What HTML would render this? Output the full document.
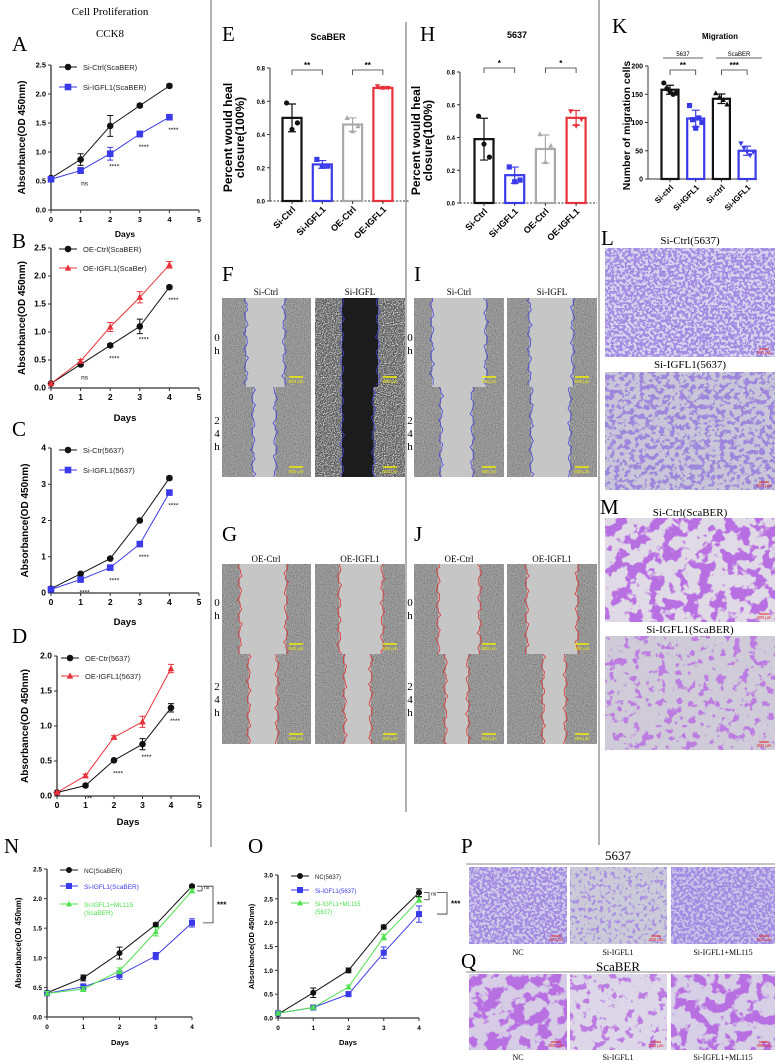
<!DOCTYPE html>
<html><head><meta charset="utf-8">
<style>
body{margin:0;background:#fff}
svg{display:block}
text{font-family:"Liberation Sans",sans-serif}
.serif{font-family:"Liberation Serif",serif}
</style></head>
<body>
<svg id="fig" width="775" height="1062" viewBox="0 0 775 1062" xmlns="http://www.w3.org/2000/svg">
<defs>
<filter id="gn" x="0" y="0" width="1" height="1"><feTurbulence type="fractalNoise" baseFrequency="0.9" numOctaves="1" seed="4"/><feColorMatrix type="matrix" values="0 0 0 0 0.15 0 0 0 0 0.15 0 0 0 0 0.15 2.2 0 0 0 -0.85"/></filter>
<filter id="wn" x="0" y="0" width="1" height="1"><feTurbulence type="fractalNoise" baseFrequency="0.9" numOctaves="1" seed="2"/><feColorMatrix type="matrix" values="0 0 0 0 0.9 0 0 0 0 0.9 0 0 0 0 0.9 3 0 0 0 -1.3"/></filter>
<filter id="pA" x="0" y="0" width="1" height="1"><feTurbulence type="fractalNoise" baseFrequency="0.35" numOctaves="2" seed="7"/><feColorMatrix type="matrix" values="0 0 0 0 0.36 0 0 0 0 0.26 0 0 0 0 0.76 12 0 0 0 -5.3"/></filter>
<filter id="pB" x="0" y="0" width="1" height="1"><feTurbulence type="fractalNoise" baseFrequency="0.2" numOctaves="3" seed="11"/><feColorMatrix type="matrix" values="0 0 0 0 0.34 0 0 0 0 0.24 0 0 0 0 0.72 12 0 0 0 -6.0"/></filter>
<filter id="pC" x="0" y="0" width="1" height="1"><feTurbulence type="fractalNoise" baseFrequency="0.08" numOctaves="3" seed="5"/><feColorMatrix type="matrix" values="0 0 0 0 0.48 0 0 0 0 0.16 0 0 0 0 0.76 12 0 0 0 -5.9"/></filter>
<filter id="pD" x="0" y="0" width="1" height="1"><feTurbulence type="fractalNoise" baseFrequency="0.12" numOctaves="3" seed="13"/><feColorMatrix type="matrix" values="0 0 0 0 0.5 0 0 0 0 0.2 0 0 0 0 0.76 12 0 0 0 -6.8"/></filter>
<filter id="pE" x="0" y="0" width="1" height="1"><feTurbulence type="fractalNoise" baseFrequency="0.25" numOctaves="3" seed="17"/><feColorMatrix type="matrix" values="0 0 0 0 0.4 0 0 0 0 0.28 0 0 0 0 0.76 12 0 0 0 -6.7"/></filter>
</defs>

<g stroke="#666" stroke-width="1">
<line x1="211" y1="0" x2="211" y2="847"/>
<line x1="406" y1="22" x2="406" y2="812"/>
<line x1="599" y1="0" x2="599" y2="845"/>
</g>

<g class="serif">
<text x="110" y="15" text-anchor="middle" font-size="11" class="serif">Cell Proliferation</text>
<text x="110" y="37" text-anchor="middle" font-size="11" class="serif">CCK8</text>
</g>

<g font-size="21" class="serif">
<text class="serif" x="12" y="51">A</text>
<text class="serif" x="12" y="248">B</text>
<text class="serif" x="12" y="436">C</text>
<text class="serif" x="12" y="643">D</text>
<text class="serif" x="222" y="41">E</text>
<text class="serif" x="420" y="41">H</text>
<text class="serif" x="612" y="33">K</text>
<text class="serif" x="222" y="281">F</text>
<text class="serif" x="414" y="281">I</text>
<text class="serif" x="222" y="541">G</text>
<text class="serif" x="414" y="541">J</text>
<text class="serif" x="601" y="245">L</text>
<text class="serif" x="600" y="514">M</text>
<text class="serif" x="4" y="853">N</text>
<text class="serif" x="248" y="853">O</text>
<text class="serif" x="461" y="853">P</text>
<text class="serif" x="461" y="968">Q</text>
</g>

<g id="root"></g>
<g id="imgs"></g>
</svg>

<script>
// ---------- DATA ----------
const days = [0, 1, 2, 3, 4];
const xTicks5 = [0, 1, 2, 3, 4, 5];
const xTicks4 = [0, 1, 2, 3, 4];

const aTicks = [0, 0.5, 1, 1.5, 2, 2.5];
const aTickLabels = ["0.0", "0.5", "1.0", "1.5", "2.0", "2.5"];
const aCtrl = [0.55, 0.87, 1.45, 1.80, 2.14];
const aCtrlErr = [0.02, 0.1, 0.18, 0.03, 0.03];
const aSi = [0.53, 0.68, 0.97, 1.31, 1.60];
const aSiErr = [0.02, 0.05, 0.11, 0.05, 0.03];
const aStars = ["", "ns", "****", "****", "****"];

const bCtrl = [0.08, 0.42, 0.76, 1.10, 1.80];
const bCtrlErr = [0.02, 0.03, 0.03, 0.13, 0.03];
const bOE = [0.08, 0.48, 1.09, 1.62, 2.20];
const bOEErr = [0.02, 0.03, 0.08, 0.1, 0.06];
const bStars = ["", "ns", "****", "****", "****"];

const cTicks = [0, 1, 2, 3, 4];
const cTickLabels = ["0", "1", "2", "3", "4"];
const cCtrl = [0.12, 0.53, 0.95, 2.0, 3.17];
const cCtrlErr = [0.02, 0.03, 0.03, 0.04, 0.05];
const cSi = [0.1, 0.37, 0.7, 1.35, 2.77];
const cSiErr = [0.02, 0.03, 0.04, 0.05, 0.05];
const cStars = ["", "****", "****", "****", "****"];

const dTicks = [0, 0.5, 1, 1.5, 2];
const dTickLabels = ["0.0", "0.5", "1.0", "1.5", "2.0"];
const dCtrl = [0.05, 0.15, 0.51, 0.74, 1.26];
const dCtrlErr = [0.01, 0.02, 0.02, 0.08, 0.06];
const dOE = [0.05, 0.29, 0.84, 1.06, 1.82];
const dOEErr = [0.01, 0.02, 0.02, 0.08, 0.06];
const dStars = ["", "**", "****", "****", "****"];

const nNC = [0.41, 0.66, 1.08, 1.56, 2.21];
const nNCErr = [0.03, 0.05, 0.1, 0.03, 0.02];
const nSi = [0.40, 0.51, 0.71, 1.03, 1.59];
const nSiErr = [0.03, 0.05, 0.07, 0.06, 0.07];
const nML = [0.40, 0.47, 0.78, 1.44, 2.13];
const nMLErr = [0.03, 0.04, 0.05, 0.07, 0.03];

const oTicks = [0, 0.5, 1, 1.5, 2, 2.5, 3];
const oTickLabels = ["0.0", "0.5", "1.0", "1.5", "2.0", "2.5", "3.0"];
const oNC = [0.08, 0.53, 1.0, 1.91, 2.63];
const oNCErr = [0.03, 0.1, 0.05, 0.04, 0.08];
const oSi = [0.1, 0.22, 0.5, 1.37, 2.18];
const oSiErr = [0.03, 0.03, 0.05, 0.12, 0.17];
const oML = [0.1, 0.22, 0.65, 1.7, 2.48];
const oMLErr = [0.03, 0.03, 0.04, 0.06, 0.05];

const barCats = ["Si-Ctrl", "Si-IGFL1", "OE-Ctrl", "OE-IGFL1"];
const barTicks = [0, 0.2, 0.4, 0.6, 0.8];
const barTickLabels = ["0.0", "0.2", "0.4", "0.6", "0.8"];
const eVals = [0.50, 0.22, 0.46, 0.68];
const ePts = [[0.59, 0.43, 0.47], [0.25, 0.21, 0.21], [0.50, 0.42, 0.45], [0.69, 0.68, 0.68]];
const hVals = [0.39, 0.17, 0.33, 0.52];
const hPts = [[0.53, 0.36, 0.28], [0.22, 0.13, 0.14], [0.42, 0.25, 0.35], [0.56, 0.47, 0.51]];
const kCats = ["Si-ctrl", "Si-IGFL1", "Si-ctrl", "Si-IGFL1"];
const kTicks = [0, 50, 100, 150, 200];
const kTickLabels = ["0", "50", "100", "150", "200"];
const kVals = [158, 107, 142, 50];
const kPts = [[170, 160, 155, 150, 152], [130, 105, 90, 108, 100], [152, 145, 140, 132], [63, 55, 48, 42, 48]];

// ---------- HELPERS ----------
const NS = "http://www.w3.org/2000/svg";
const root = document.getElementById("root");
const imgs = document.getElementById("imgs");
function mk(tag, attrs, parent) {
  const e = document.createElementNS(NS, tag);
  for (const k in attrs) e.setAttribute(k, attrs[k]);
  parent.appendChild(e);
  return e;
}
function tx(str, attrs, parent) { const e = mk("text", attrs, parent); e.textContent = str; return e; }

const BLACK = "#111", BLUE = "#3a3ae8", RED = "#e8323c", GREEN = "#4ee04e", GRAY = "#aaaaaa";

function marker(g, type, x, y, color, s) {
  let m;
  if (type === "circle") m = mk("circle", { cx: x, cy: y, r: s, fill: color }, g);
  else if (type === "square") m = mk("rect", { x: x - s, y: y - s, width: 2 * s, height: 2 * s, fill: color }, g);
  else if (type === "tri") m = mk("polygon", { points: `${x},${y - s * 1.1} ${x - s},${y + s * 0.8} ${x + s},${y + s * 0.8}`, fill: color }, g);
  else m = mk("polygon", { points: `${x},${y + s * 1.1} ${x - s},${y - s * 0.8} ${x + s},${y - s * 0.8}`, fill: color }, g);
  
  
  return m;
}

function lineChart(L, xt, yt, ytl, series, stars) {
  const g = mk("g", {}, root);
  
  
  const X = d => L.x0 + d * L.xs;
  const Y = v => L.yB - v / L.ymax * (L.yB - L.yT);
  const xmax = xt[xt.length - 1];
  const ya = mk("line", { x1: L.x0, y1: L.yT, x2: L.x0, y2: L.yB, stroke: "#333", "stroke-width": 1.3 }, g);
  
  
  const xa = mk("line", { x1: L.x0, y1: L.yB, x2: X(xmax), y2: L.yB, stroke: "#333", "stroke-width": 1.3 }, g);
  
  
  yt.forEach((v, i) => {
    mk("line", { x1: L.x0 - 3, y1: Y(v), x2: L.x0, y2: Y(v), stroke: "#333", "stroke-width": 1 }, g);
    const t = tx(ytl[i], { x: L.x0 - 5, y: Y(v) + 2.5, "text-anchor": "end", "font-size": L.fs, "font-weight": "bold" }, g);
    
    
  });
  xt.forEach(d => {
    mk("line", { x1: X(d), y1: L.yB, x2: X(d), y2: L.yB + 3, stroke: "#333", "stroke-width": 1 }, g);
    const t = tx(String(d), { x: X(d), y: L.yB + 12, "text-anchor": "middle", "font-size": L.fs, "font-weight": "bold" }, g);
    
    
  });
  const xl = tx("Days", { x: L.dx, y: L.dy, "text-anchor": "middle", "font-size": L.fs + 1, "font-weight": "bold" }, g);
  
  
  const yl = tx("Absorbance(OD 450nm)", { x: 0, y: 0, "text-anchor": "middle", "font-size": L.yfs, "font-weight": "bold", transform: `translate(${L.ytx},${(L.yT + L.yB) / 2}) rotate(-90)` }, g);
  
  
  series.forEach((s, si) => {
    const pts = s.vals.map((v, i) => X(days[i]) + "," + Y(v)).join(" ");
    const pl = mk("polyline", { points: pts, fill: "none", stroke: s.color, "stroke-width": 1 }, g);
    
    
    s.vals.forEach((v, i) => {
      const x = X(days[i]), e = s.errs[i];
      const eb = mk("path", { d: `M${x},${Y(v - e)}V${Y(v + e)}M${x - 3},${Y(v - e)}h6M${x - 3},${Y(v + e)}h6`, stroke: s.color, "stroke-width": 1, fill: "none" }, g);
      
      
      marker(g, s.marker, x, Y(v), s.color, L.ms);
    });
    const ly = L.legY[si];
    const ll = mk("line", { x1: L.legX, y1: ly, x2: L.legX + 18, y2: ly, stroke: s.color, "stroke-width": 1 }, g);
    
    
    marker(g, s.marker, L.legX + 9, ly, s.color, L.ms);
    s.label.forEach((lab, k) => {
      const lt = tx(lab, { x: L.legX + 24, y: ly + 3 + k * 8, "font-size": L.lfs, fill: s.lcolor || "#222" }, g);
      
      
    });
  });
  if (stars) {
    const ref = series[stars.ref].vals;
    stars.labels.forEach((lab, i) => {
      if (!lab) return;
      const st = tx(lab, { x: X(days[i]) + 4, y: Y(ref[i]) + 15, "text-anchor": "middle", "font-size": 6.5 }, g);
      
      
    });
  }
  return { g, X, Y };
}

function barChart(B, cats, yt, ytl, vals, pts, colors, marks) {
  const g = mk("g", {}, root);
  
  
  const Y = v => B.yB - v / B.ymax * (B.yB - B.yT);
  const C = i => B.c0 + i * B.band;
  const ya = mk("line", { x1: B.x0, y1: B.yT, x2: B.x0, y2: B.yB, stroke: "#333", "stroke-width": 1 }, g);
  
  
  const xa = mk("line", { x1: B.x0, y1: B.yB, x2: B.x1, y2: B.yB, stroke: "#333", "stroke-width": 1, "stroke-dasharray": B.dash ? "2,1.5" : "none" }, g);
  
  
  yt.forEach((v, i) => {
    mk("line", { x1: B.x0 - 3, y1: Y(v), x2: B.x0, y2: Y(v), stroke: "#333", "stroke-width": 1 }, g);
    const t = tx(ytl[i], { x: B.x0 - 5, y: Y(v) + 2.5, "text-anchor": "end", "font-size": B.tfs, "font-weight": "bold" }, g);
    
    
  });
  vals.forEach((v, i) => {
    const c = C(i), col = colors[i];
    const bar = mk("rect", { x: c - B.bw / 2, y: Y(v), width: B.bw, height: B.yB - Y(v), fill: "#fff", stroke: col, "stroke-width": 2.2 }, g);
    
    
    const p = pts[i];
    const m = p.reduce((a, b) => a + b, 0) / p.length;
    const sd = Math.sqrt(p.reduce((a, b) => a + (b - m) * (b - m), 0) / (p.length - 1));
    const eb = mk("path", { d: `M${c},${Y(v - sd)}V${Y(v + sd)}M${c - 4},${Y(v - sd)}h8M${c - 4},${Y(v + sd)}h8`, stroke: col, "stroke-width": 1.2, fill: "none" }, g);
    
    
    p.forEach((pv, k) => {
      const off = (k - (p.length - 1) / 2) * (B.bw / (p.length + 0.5));
      marker(g, marks[i], c + off, Y(pv), col, 2.6);
    });
    mk("line", { x1: c, y1: B.yB, x2: c, y2: B.yB + 3, stroke: "#333" }, g);
    const ct = tx(cats[i], { x: 0, y: 0, "text-anchor": "end", "font-size": B.cfs, "font-weight": "bold", transform: `translate(${c + 4},${B.yB + 9}) rotate(-45)` }, g);
    
    
  });
  B.sig.forEach(s => {
    const x1 = C(s.a), x2 = C(s.b);
    const br = mk("path", { d: `M${x1},${B.sigY + 5}V${B.sigY}H${x2}V${B.sigY + 5}`, stroke: "#333", fill: "none", "stroke-width": 0.8 }, g);
    
    
    const st = tx(s.t, { x: (x1 + x2) / 2, y: B.sigY - 2, "text-anchor": "middle", "font-size": 8, "font-weight": "bold" }, g);
    
    
  });
  const tt = tx(B.title, { x: B.titleX, y: B.titleY, "text-anchor": "middle", "font-size": B.titleFs, "font-weight": "bold" }, g);
  
  
  B.ytitle.forEach((line, k) => {
    const yl = tx(line, { x: 0, y: 0, "text-anchor": "middle", "font-size": B.yfs, "font-weight": "bold", transform: `translate(${B.ytx + k * B.yfs},${(B.yT + B.yB) / 2 + 3}) rotate(-90)` }, g);
    
    
  });
  return g;
}

// ---------- LINE CHARTS ----------
lineChart({ name: "chart-a", x0: 51, xs: 29.6, yB: 210, yT: 65, ymax: 2.5, fs: 7.5, yfs: 10, ytx: 25, dx: 125, dy: 237, ms: 3.3, legX: 59, legY: [67, 87], lfs: 7.5 },
  xTicks5, aTicks, aTickLabels,
  [{ vals: aCtrl, errs: aCtrlErr, color: BLACK, marker: "circle", label: ["Si-Ctrl(ScaBER)"] },
   { vals: aSi, errs: aSiErr, color: BLUE, marker: "square", label: ["Si-IGFL1(ScaBER)"] }],
  { ref: 1, labels: aStars });

lineChart({ name: "chart-b", x0: 51, xs: 29.6, yB: 388, yT: 248, ymax: 2.5, fs: 8.5, yfs: 10, ytx: 25, dx: 125, dy: 421, ms: 3.3, legX: 59, legY: [249, 268], lfs: 7.5 },
  xTicks5, aTicks, aTickLabels,
  [{ vals: bCtrl, errs: bCtrlErr, color: BLACK, marker: "circle", label: ["OE-Ctrl(ScaBER)"] },
   { vals: bOE, errs: bOEErr, color: RED, marker: "tri", label: ["OE-IGFL1(ScaBer)"] }],
  { ref: 0, labels: bStars });

lineChart({ name: "chart-c", x0: 51, xs: 29.6, yB: 593, yT: 448, ymax: 4, fs: 8.5, yfs: 10, ytx: 28, dx: 125, dy: 625, ms: 3.3, legX: 59, legY: [450, 470], lfs: 7.5 },
  xTicks5, cTicks, cTickLabels,
  [{ vals: cCtrl, errs: cCtrlErr, color: BLACK, marker: "circle", label: ["Si-Ctr(5637)"] },
   { vals: cSi, errs: cSiErr, color: BLUE, marker: "square", label: ["Si-IGFL1(5637)"] }],
  { ref: 1, labels: cStars });

lineChart({ name: "chart-d", x0: 57, xs: 28.5, yB: 796, yT: 656, ymax: 2, fs: 8.5, yfs: 10, ytx: 28, dx: 128, dy: 825, ms: 3.3, legX: 61, legY: [658, 676], lfs: 7.5 },
  xTicks5, dTicks, dTickLabels,
  [{ vals: dCtrl, errs: dCtrlErr, color: BLACK, marker: "circle", label: ["OE-Ctr(5637)"] },
   { vals: dOE, errs: dOEErr, color: RED, marker: "tri", label: ["OE-IGFL1(5637)"] }],
  { ref: 0, labels: dStars });

const nc = lineChart({ name: "chart-n", x0: 47, xs: 36.25, yB: 1017, yT: 869, ymax: 2.5, fs: 6.5, yfs: 8, ytx: 21, dx: 120, dy: 1045, ms: 3, legX: 60, legY: [870, 886, 904], lfs: 6.5 },
  xTicks4, aTicks, aTickLabels,
  [{ vals: nNC, errs: nNCErr, color: BLACK, marker: "circle", label: ["NC(ScaBER)"] },
   { vals: nSi, errs: nSiErr, color: BLUE, marker: "square", label: ["Si-IGFL1(ScaBER)"], lcolor: BLUE },
   { vals: nML, errs: nMLErr, color: GREEN, marker: "tri", label: ["Si-IGFL1+ML115", "(ScaBER)"], lcolor: GREEN }],
  null);

const oc = lineChart({ name: "chart-o", x0: 278, xs: 35.25, yB: 1018, yT: 875, ymax: 3, fs: 6.5, yfs: 7.5, ytx: 254, dx: 348, dy: 1045, ms: 3, legX: 291, legY: [876, 890, 903], lfs: 6 },
  xTicks4, oTicks, oTickLabels,
  [{ vals: oNC, errs: oNCErr, color: BLACK, marker: "circle", label: ["NC(5637)"] },
   { vals: oSi, errs: oSiErr, color: BLUE, marker: "square", label: ["Si-IGFL1(5637)"], lcolor: BLUE },
   { vals: oML, errs: oMLErr, color: GREEN, marker: "tri", label: ["Si-IGFL1+ML115", "(5637)"], lcolor: GREEN }],
  null);

function brackets(c, a, b, d, bx) {
  const x = c.X(4);
  const p1 = mk("path", { d: `M${x + 5},${c.Y(a[4])}h5V${c.Y(b[4])}h-5`, stroke: "#333", fill: "none", "stroke-width": 0.8 }, c.g);
  
  
  const t1 = tx("ns", { x: x + 12, y: c.Y(a[4]) + 3, "font-size": 5 }, c.g);
  
  
  const p2 = mk("path", { d: `M${x + bx},${c.Y(a[4])}h10V${c.Y(d[4])}h-10`, stroke: "#333", fill: "none", "stroke-width": 0.8 }, c.g);
  
  
  const t2 = tx("***", { x: x + bx + 14, y: (c.Y(a[4]) + c.Y(d[4])) / 2 + 3, "font-size": 8, "font-weight": "bold" }, c.g);
  
  
}
brackets(nc, nNC, nML, nSi, 11);
brackets(oc, oNC, oML, oSi, 18);

// ---------- BAR CHARTS ----------
barChart({ name: "chart-e", x0: 270, x1: 410, yB: 201, yT: 68, ymax: 0.8, c0: 292, band: 30.3, bw: 19, tfs: 6, cfs: 9, dash: true,
  sig: [{ a: 0, b: 1, t: "**" }, { a: 2, b: 3, t: "**" }], sigY: 70, title: "ScaBER", titleX: 328, titleY: 40, titleFs: 9,
  ytitle: ["Percent would heal", "closure(100%)"], ytx: 232, yfs: 12 },
  barCats, barTicks, barTickLabels, eVals, ePts, [BLACK, BLUE, GRAY, RED], ["circle", "square", "tri", "inv"]);

barChart({ name: "chart-h", x0: 460, x1: 597, yB: 203, yT: 72, ymax: 0.8, c0: 484, band: 30.7, bw: 19, tfs: 6, cfs: 9, dash: true,
  sig: [{ a: 0, b: 1, t: "*" }, { a: 2, b: 3, t: "*" }], sigY: 68, title: "5637", titleX: 517, titleY: 38, titleFs: 9,
  ytitle: ["Percent would heal", "closure(100%)"], ytx: 420, yfs: 12 },
  barCats, barTicks, barTickLabels, hVals, hPts, [BLACK, BLUE, GRAY, RED], ["circle", "square", "tri", "inv"]);

const kg = barChart({ name: "chart-k", x0: 648, x1: 757, yB: 179, yT: 66, ymax: 200, c0: 670, band: 25.7, bw: 17, tfs: 7, cfs: 8, dash: false,
  sig: [{ a: 0, b: 1, t: "**" }, { a: 2, b: 3, t: "***" }], sigY: 70, title: "Migration", titleX: 720, titleY: 39, titleFs: 8,
  ytitle: ["Number of migration cells"], ytx: 630, yfs: 10.5 },
  kCats, kTicks, kTickLabels, kVals, kPts, [BLACK, BLUE, BLACK, BLUE], ["circle", "square", "tri", "inv"]);
[["5637", 663, 703, 683], ["ScaBER", 716, 762, 739]].forEach(gl => {
  const l = mk("line", { x1: gl[1], y1: 58, x2: gl[2], y2: 58, stroke: "#333", "stroke-width": 0.8 }, kg);
  
  
  const t = tx(gl[0], { x: gl[3], y: 56, "text-anchor": "middle", "font-size": 6 }, kg);
  
  
});

// ---------- MICROGRAPHS ----------
function wavy(x, y0, y1, amp, seed) {
  let pts = [];
  for (let y = y0; y <= y1; y += 3) {
    const j = Math.sin(y * 0.37 + seed) * amp + Math.sin(y * 0.91 + seed * 2) * amp * 0.6;
    pts.push((x + j).toFixed(1) + "," + y);
  }
  return pts.join(" ");
}
function wound(x, y, w, h, lf, rf, col, dark, seed) {
  const g = mk("g", {}, imgs);
  
  
  const lx = x + w * lf, rx = x + w * rf;
  const bg = mk("rect", { x, y, width: w, height: h, fill: dark ? "#5a5a5a" : "#a3a3a3" }, g);
  
  
  const nz = mk("rect", { x, y, width: w, height: h, filter: dark ? "url(#wn)" : "url(#gn)" }, g);
  
  
  const gap = mk("rect", { x: lx, y, width: rx - lx, height: h, fill: dark ? "#1c1c1c" : "#c6c6c6" }, g);
  
  
  [lx, rx].forEach((ex, k) => {
    const pl = mk("polyline", { points: wavy(ex, y, y + h, 1.6, seed + k * 3), fill: "none", stroke: col, "stroke-width": 0.8 }, g);
    
    
  });
  const sb = mk("line", { x1: x + w - 22, y1: y + h - 10, x2: x + w - 8, y2: y + h - 10, stroke: "#f0f000", "stroke-width": 1.5 }, g);
  
  
  const st = tx("500 μm", { x: x + w - 15, y: y + h - 4, "text-anchor": "middle", "font-size": 4.5, fill: "#f0f000" }, g);
  
  
}
function caption(str, x, y, fs, name) {
  const t = tx(str, { x, y, "text-anchor": "middle", "font-size": fs, class: "serif" }, imgs);
  
  
}
function rowLabel(chars, x, y) {
  chars.forEach((c, i) => {
    const t = tx(c, { x, y: y + i * 13, "text-anchor": "middle", "font-size": 11, class: "serif" }, imgs);
    
    
  });
}
caption("Si-Ctrl", 266, 295, 9, "column-title"); caption("Si-IGFL", 360, 295, 9, "column-title");
wound(222, 298, 89, 89, 0.27, 0.7, "#4444dd", false, 1);
wound(222, 387, 89, 90, 0.35, 0.6, "#4444dd", false, 2);
wound(315, 298, 90, 89, 0.3, 0.7, "#4444dd", true, 3);
wound(315, 387, 90, 90, 0.3, 0.65, "#4444dd", true, 4);
rowLabel(["0", "h"], 217, 341); rowLabel(["2", "4", "h"], 217, 424);
caption("Si-Ctrl", 459, 295, 9, "column-title"); caption("Si-IGFL", 552, 295, 9, "column-title");
wound(414, 298, 90, 89, 0.2, 0.8, "#4444dd", false, 5);
wound(414, 387, 90, 90, 0.3, 0.65, "#4444dd", false, 6);
wound(507, 298, 90, 89, 0.25, 0.73, "#4444dd", false, 7);
wound(507, 387, 90, 90, 0.27, 0.7, "#4444dd", false, 8);
rowLabel(["0", "h"], 410, 341); rowLabel(["2", "4", "h"], 410, 424);
caption("OE-Ctrl", 266, 562, 9, "column-title"); caption("OE-IGFL1", 360, 562, 9, "column-title");
wound(222, 564, 89, 90, 0.2, 0.72, "#dd3333", false, 9);
wound(222, 654, 89, 90, 0.3, 0.62, "#dd3333", false, 10);
wound(315, 564, 90, 90, 0.27, 0.75, "#dd3333", false, 11);
wound(315, 654, 90, 90, 0.33, 0.62, "#dd3333", false, 12);
rowLabel(["0", "h"], 217, 606); rowLabel(["2", "4", "h"], 217, 690);
caption("OE-Ctrl", 459, 562, 9, "column-title"); caption("OE-IGFL1", 552, 562, 9, "column-title");
wound(414, 564, 90, 90, 0.27, 0.73, "#dd3333", false, 13);
wound(414, 654, 90, 90, 0.35, 0.6, "#dd3333", false, 14);
wound(507, 564, 90, 90, 0.22, 0.78, "#dd3333", false, 15);
wound(507, 654, 90, 90, 0.4, 0.65, "#dd3333", false, 16);
rowLabel(["0", "h"], 410, 606); rowLabel(["2", "4", "h"], 410, 690);

function stain(x, y, w, h, base, filt, name) {
  const g = mk("g", {}, imgs);
  
  
  const b = mk("rect", { x, y, width: w, height: h, fill: base }, g);
  
  
  const n = mk("rect", { x, y, width: w, height: h, filter: `url(#${filt})` }, g);
  
  
  const sb = mk("line", { x1: x + w - 16, y1: y + h - 8, x2: x + w - 6, y2: y + h - 8, stroke: "#e02020", "stroke-width": 1 }, g);
  
  
  const st = tx("200 μm", { x: x + w - 11, y: y + h - 3, "text-anchor": "middle", "font-size": 4.5, fill: "#e02020" }, g);
  
  
}
caption("Si-Ctrl(5637)", 690, 244, 11, "image-title");
stain(605, 248, 170, 109, "#d8d4ee", "pA", "si-ctrl-5637-image");
caption("Si-IGFL1(5637)", 690, 368, 11, "image-title");
stain(605, 372, 170, 118, "#c8c6d8", "pB", "si-igfl1-5637-image");
caption("Si-Ctrl(ScaBER)", 690, 516, 11, "image-title");
stain(605, 518, 170, 104, "#e0dae6", "pC", "si-ctrl-scaber-image");
caption("Si-IGFL1(ScaBER)", 690, 633, 11, "image-title");
stain(605, 636, 170, 114, "#cfcbd8", "pD", "si-igfl1-scaber-image");
caption("5637", 618, 860, 13, "group-title");
const pl1 = mk("line", { x1: 466, y1: 864, x2: 775, y2: 864, stroke: "#888", "stroke-width": 1 }, imgs);


stain(469, 867, 98, 77, "#d0cae8", "pA", "p-nc-image");
stain(570, 867, 97, 77, "#cbcad8", "pE", "p-si-igfl1-image");
stain(671, 867, 104, 77, "#c8c2e8", "pA", "p-si-igfl1-ml115-image");
caption("NC", 518, 955, 8, "image-caption"); caption("Si-IGFL1", 618, 955, 8, "image-caption"); caption("Si-IGFL1+ML115", 723, 955, 8, "image-caption");
caption("ScaBER", 618, 971, 13, "group-title");
const pl2 = mk("line", { x1: 466, y1: 972, x2: 775, y2: 972, stroke: "#888", "stroke-width": 1 }, imgs);


stain(469, 974, 98, 76, "#d6cce6", "pC", "q-nc-image");
stain(570, 974, 97, 76, "#ddd6e8", "pD", "q-si-igfl1-image");
stain(671, 974, 104, 76, "#d6cfe6", "pC", "q-si-igfl1-ml115-image");
caption("NC", 518, 1060, 8, "image-caption"); caption("Si-IGFL1", 618, 1060, 8, "image-caption"); caption("Si-IGFL1+ML115", 723, 1060, 8, "image-caption");
</script>
</body></html>
